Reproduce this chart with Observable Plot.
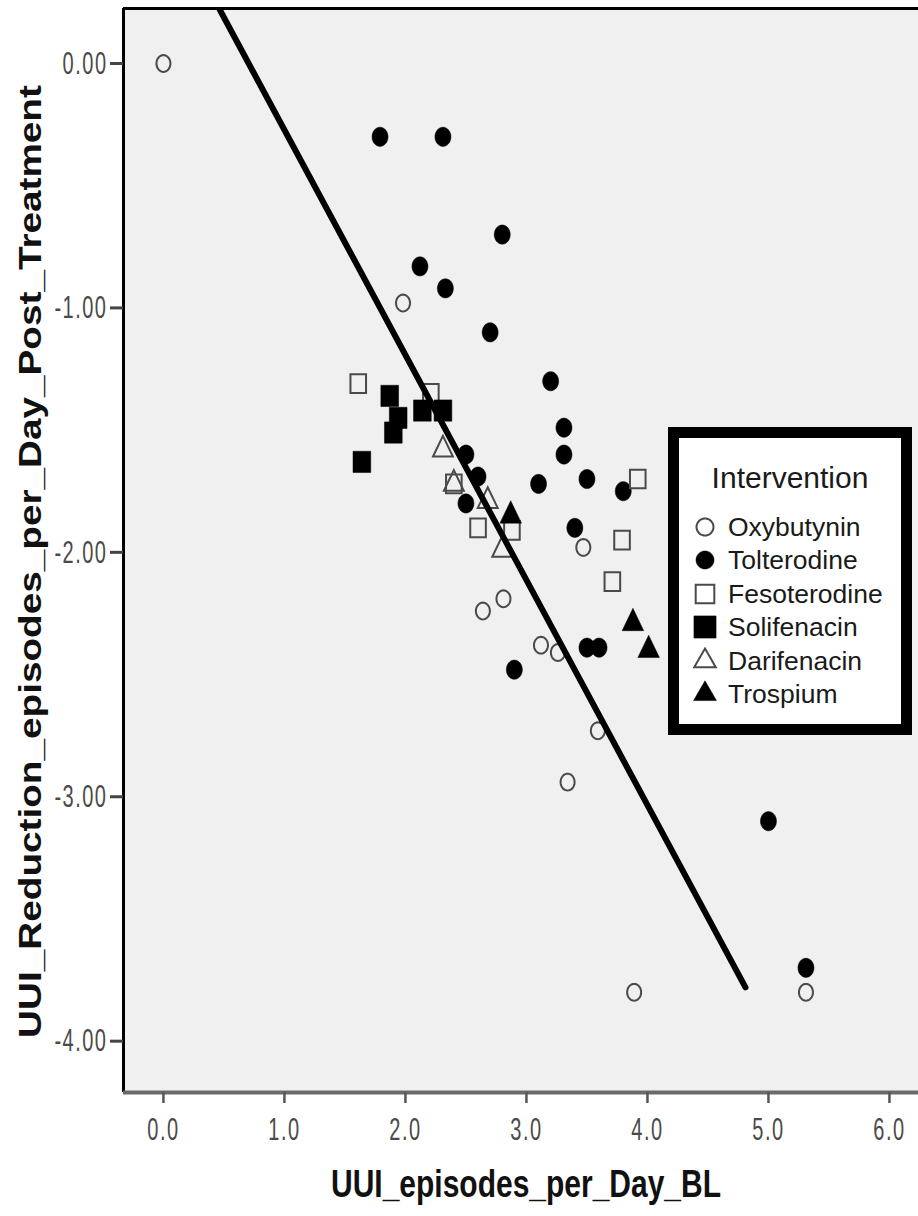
<!DOCTYPE html>
<html>
<head>
<meta charset="utf-8">
<script src="https://cdn.jsdelivr.net/npm/d3@7"></script>
<script src="https://cdn.jsdelivr.net/npm/@observablehq/plot@0.6"></script>
<style>
  body { margin: 0; background: #fff; }
  #wrap { position: relative; width: 918px; height: 1216px; overflow: hidden; background: #fff; }
  #wrap > svg { position: absolute; left: 0; top: 0; }
  #legend { position: absolute; left: 668px; top: 427px; width: 244px; height: 308px; box-sizing: border-box;
    border: 11px solid #000; background: #fff; font-family: "Liberation Sans", Arial, sans-serif; color: #1a1a1a; }
  #legend .ttl { position: absolute; left: 0; right: 0; top: 22px; height: 36px; line-height: 36px; text-align: center; font-size: 30px; }
  #legend .row { position: absolute; left: 0; height: 30px; line-height: 30px; font-size: 26.5px; white-space: nowrap; }
  #legend .row svg { position: absolute; left: 12px; top: 1px; }
  #legend .row span { position: absolute; left: 49px; top: 0; }
</style>
</head>
<body>
<div id="wrap"></div>
<script>
// ---------- data ----------
const xDomain = [-0.33, 6.24];
const yDomain = [-4.21, 0.225];
const xTicks = [0, 1, 2, 3, 4, 5, 6];
const yTicks = [0, -1, -2, -3, -4];
const xTitle = "UUI_episodes_per_Day_BL";
const yTitle = "UUI_Reduction_episodes_per_Day_Post_Treatment";
const legendTitle = "Intervention";
const drugs = ["Oxybutynin", "Tolterodine", "Fesoterodine", "Solifenacin", "Darifenacin", "Trospium"];

const oxybutyninX = [0.00, 1.98, 3.47, 2.64, 2.81, 3.12, 3.26, 3.59, 3.34, 3.89, 5.31];
const oxybutyninY = [0.00, -0.98, -1.98, -2.24, -2.19, -2.38, -2.41, -2.73, -2.94, -3.80, -3.80];

const tolterodineX = [1.79, 2.31, 2.80, 2.12, 2.33, 2.70, 3.20, 3.31, 3.31, 3.10, 3.50, 3.80, 3.40, 2.50, 2.60, 2.50, 2.90, 3.50, 3.60, 5.00, 5.31];
const tolterodineY = [-0.30, -0.30, -0.70, -0.83, -0.92, -1.10, -1.30, -1.49, -1.60, -1.72, -1.70, -1.75, -1.90, -1.60, -1.69, -1.80, -2.48, -2.39, -2.39, -3.10, -3.70];

const fesoterodineX = [1.61, 2.21, 2.40, 2.60, 2.88, 3.92, 3.79, 3.71];
const fesoterodineY = [-1.31, -1.35, -1.72, -1.90, -1.91, -1.70, -1.95, -2.12];

const solifenacinX = [1.87, 1.94, 1.90, 2.14, 2.31, 1.64];
const solifenacinY = [-1.36, -1.45, -1.51, -1.42, -1.42, -1.63];

const darifenacinX = [2.31, 2.40, 2.68, 2.80];
const darifenacinY = [-1.58, -1.72, -1.79, -1.99];

const trospiumX = [2.87, 3.88, 4.01];
const trospiumY = [-1.85, -2.29, -2.40];

// fit line end points
const fitX = [0.455, 4.81];
const fitY = [0.23, -3.78];

// ---------- symbols (shapes only) ----------
function ellipseSym(k) {
  return { draw(ctx, size) {
    const r = Math.sqrt(size / Math.PI), n = 40;
    for (let i = 0; i < n; i++) {
      const a = 2 * Math.PI * i / n, px = r * Math.cos(a), py = k * r * Math.sin(a);
      i ? ctx.lineTo(px, py) : ctx.moveTo(px, py);
    }
    ctx.closePath();
  }};
}
function squareSym(k) {
  return { draw(ctx, size) {
    const s = Math.sqrt(size) / 2;
    ctx.moveTo(-s, -s * k); ctx.lineTo(s, -s * k); ctx.lineTo(s, s * k); ctx.lineTo(-s, s * k); ctx.closePath();
  }};
}
function triSym(k) {
  return { draw(ctx, size) {
    const y = -Math.sqrt(size / (3 * Math.sqrt(3)));
    ctx.moveTo(0, 2 * y * k); ctx.lineTo(-Math.sqrt(3) * y, -y * k); ctx.lineTo(Math.sqrt(3) * y, -y * k); ctx.closePath();
  }};
}
const K = 1.2;
const OPEN = "#4a4a4a";
const styles = {
  Oxybutynin:   {sym: ellipseSym, r: 7,   fill: "none",  stroke: OPEN, sw: 2, lr: 8.5},
  Tolterodine:  {sym: ellipseSym, r: 8,   fill: "#000",  stroke: "#000", sw: 0.5, lr: 9},
  Fesoterodine: {sym: squareSym,  r: 8.8, fill: "none",  stroke: OPEN, sw: 2, lr: 10.5},
  Solifenacin:  {sym: squareSym,  r: 10,  fill: "#000",  stroke: "#000", sw: 0.5, lr: 12.5},
  Darifenacin:  {sym: triSym,     r: 7.4, fill: "none",  stroke: OPEN, sw: 2, lr: 8},
  Trospium:     {sym: triSym,     r: 8,   fill: "#000",  stroke: "#000", sw: 0.5, lr: 8.5}
};
const seriesData = {
  Oxybutynin: [oxybutyninX, oxybutyninY],
  Tolterodine: [tolterodineX, tolterodineY],
  Fesoterodine: [fesoterodineX, fesoterodineY],
  Solifenacin: [solifenacinX, solifenacinY],
  Darifenacin: [darifenacinX, darifenacinY],
  Trospium: [trospiumX, trospiumY]
};

const FONT = '"Liberation Sans", Arial, Helvetica, sans-serif';

const dotMarks = drugs.map(name => {
  const [xs, ys] = seriesData[name];
  const st = styles[name];
  const rows = xs.map((x, i) => ({x, y: ys[i], drug: name}));
  return Plot.dot(rows, {x: "x", y: "y", symbol: st.sym(K), r: st.r, fill: st.fill, stroke: st.stroke, strokeWidth: st.sw});
});
const fitRows = fitX.map((x, i) => ({x, y: fitY[i]}));

const chart = Plot.plot({
  width: 918, height: 1216,
  marginLeft: 123, marginRight: 0, marginTop: 8, marginBottom: 124,
  style: {background: "transparent", fontFamily: FONT, overflow: "visible"},
  x: {domain: xDomain},
  y: {domain: yDomain},
  marks: [
    Plot.frame({fill: "#f0f0f0", stroke: "none"}),
    ...dotMarks,
    Plot.line(fitRows, {x: "x", y: "y", stroke: "#000", strokeWidth: 6, clip: true}),
    Plot.ruleX([xDomain[0]], {stroke: "#000", strokeWidth: 3}),
    Plot.ruleY([yDomain[1]], {stroke: "#000", strokeWidth: 3}),
    Plot.ruleY([yDomain[0]], {stroke: "#6a6a6a", strokeWidth: 4}),
    Plot.axisX({ticks: xTicks, tickFormat: d => d.toFixed(1), tickSize: 11, tickPadding: 14,
      stroke: "#555", strokeWidth: 2.5, fill: "#4a4a4a", fontSize: 20, label: null}),
    Plot.axisY({ticks: yTicks, tickFormat: d => d.toFixed(2), tickSize: 13, tickPadding: 3,
      stroke: "#444", strokeWidth: 3, fill: "#4a4a4a", fontSize: 20, label: null}),
    Plot.text([xTitle], {text: d => d, frameAnchor: "bottom", textAnchor: "middle", lineAnchor: "middle",
      dy: 92, dx: 5, fontSize: 30, fontWeight: "bold", fill: "#111"}),
    Plot.text([yTitle], {text: d => d, frameAnchor: "left", textAnchor: "middle", lineAnchor: "middle",
      dx: -93, dy: 11, rotate: -90, fontSize: 32, fontWeight: "bold", fill: "#111"})
  ]
});

// stretch texts to match the reference's tall glyphs
function stretch(el, sx, sy) {
  const t = el.getAttribute("transform");
  if (t) el.setAttribute("transform", t + ` scale(${sx},${sy})`);
  else { el.style.transformBox = "fill-box"; el.style.transformOrigin = "center"; el.style.transform = `scale(${sx},${sy})`; }
}
d3.select(chart).selectAll("text").each(function () {
  const s = this.textContent;
  if (/^-?\d\.\d+$/.test(s)) { stretch(this, 1, 1.6); this.style.letterSpacing = "1.5px"; }
  else if (s === xTitle) stretch(this, 1, 1.3);
  else if (s === yTitle) stretch(this, 1.21, 1);
});

const wrap = document.getElementById("wrap");
wrap.appendChild(chart);

// ---------- legend ----------
const legend = document.createElement("div");
legend.id = "legend";
const ttl = document.createElement("div");
ttl.className = "ttl"; ttl.textContent = legendTitle;
legend.appendChild(ttl);
drugs.forEach((name, i) => {
  const st = styles[name];
  const row = document.createElement("div");
  row.className = "row";
  row.style.top = (74 + i * 33.4) + "px";
  const svgNS = "http://www.w3.org/2000/svg";
  const svg = document.createElementNS(svgNS, "svg");
  svg.setAttribute("width", 28); svg.setAttribute("height", 28);
  const p = document.createElementNS(svgNS, "path");
  p.setAttribute("d", d3.symbol().type(st.sym(1)).size(Math.PI * st.lr * st.lr)());
  p.setAttribute("transform", "translate(14,14)");
  p.setAttribute("fill", st.fill);
  p.setAttribute("stroke", st.stroke);
  p.setAttribute("stroke-width", st.sw);
  svg.appendChild(p);
  row.appendChild(svg);
  const sp = document.createElement("span");
  sp.textContent = name;
  row.appendChild(sp);
  legend.appendChild(row);
});
wrap.appendChild(legend);
</script>
</body>
</html>
